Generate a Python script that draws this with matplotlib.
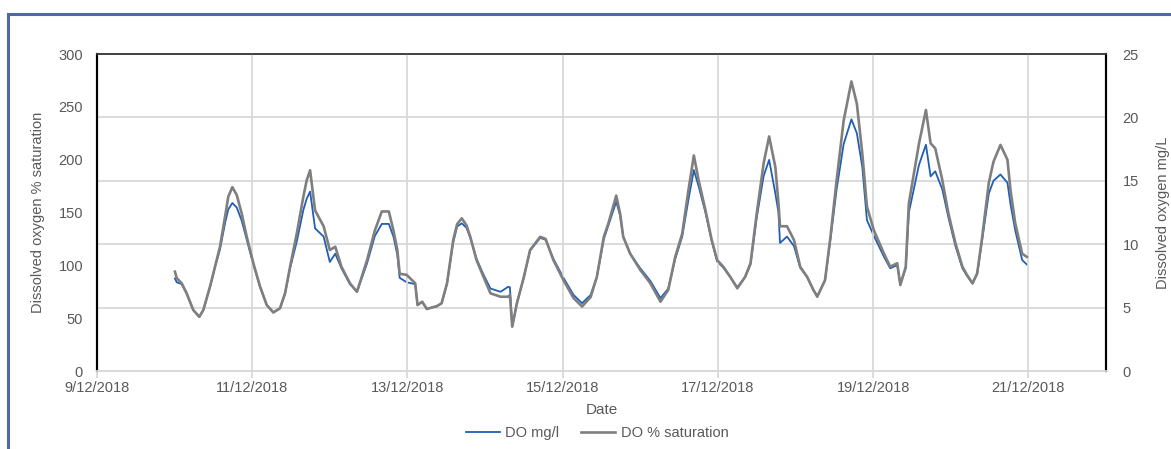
import matplotlib
matplotlib.use('Agg')
import matplotlib.pyplot as plt
from matplotlib.lines import Line2D
import pandas as pd

plt.rcParams['font.family'] = ['Liberation Sans', 'DejaVu Sans']

# time as day of December 2018 (fractional)
day = [10.005, 10.027, 10.092, 10.156, 10.241, 10.319, 10.370, 10.457, 10.521, 10.585,
       10.650, 10.692, 10.744, 10.801, 10.865, 10.930, 11.015, 11.101, 11.187, 11.272,
       11.358, 11.423, 11.488, 11.574, 11.659, 11.703, 11.746,
       11.81, 11.92, 12.00, 12.07, 12.15, 12.26, 12.35, 12.48, 12.58, 12.67, 12.76,
       12.82, 12.87, 12.90, 12.99, 13.06, 13.10, 13.13, 13.19, 13.25, 13.38,
       13.44, 13.51, 13.59, 13.64, 13.70, 13.76, 13.81, 13.89, 13.98, 14.07, 14.20, 14.30,
       14.32, 14.35, 14.41, 14.50, 14.58, 14.71, 14.78, 14.88, 15.01, 15.14,
       15.25, 15.36, 15.44, 15.53, 15.59, 15.69, 15.74, 15.78, 15.87, 16.00,
       16.13, 16.26, 16.36, 16.45, 16.54, 16.62, 16.69, 16.75, 16.84, 16.92,
       16.99, 17.07, 17.16, 17.25, 17.35, 17.42, 17.50, 17.59, 17.66, 17.74,
       17.78, 17.80, 17.89, 17.98, 18.06, 18.15, 18.23, 18.28, 18.38, 18.45,
       18.53, 18.62, 18.72, 18.79, 18.86, 18.92, 19.01, 19.14, 19.22, 19.31,
       19.35, 19.42, 19.46, 19.59, 19.68, 19.74, 19.80, 19.89, 19.97, 20.06,
       20.15, 20.21, 20.28, 20.34, 20.40, 20.49, 20.55, 20.64, 20.73, 20.77,
       20.83, 20.92, 20.98]
sat = [94, 88, 83, 73.5, 57.7, 51.4, 57.7, 80, 98.7, 117.6,
       146, 165, 174, 166.6, 149, 127, 102, 80, 62.5, 55.5,
       59.3, 73.5, 98.7, 130, 165, 180.7, 190,
       152, 137, 114.5, 117.6, 98.7, 83, 75, 105, 133, 151, 151,
       133, 114.5, 92, 91, 86, 83, 62.5, 65.6, 58.7, 61.5,
       64, 83, 124, 139, 144.5, 138, 127, 105, 89, 73.5, 70.3, 70.3,
       72, 42, 64, 89, 114.5, 127, 125, 105, 86, 69,
       61, 70, 89, 127, 140, 166, 149, 127, 111, 95.6,
       83, 65.6, 76.7, 108, 130, 171, 204, 181, 152, 124,
       105, 98.7, 89, 78.3, 89, 102, 149, 197, 222, 193,
       159, 137, 137, 124, 98.7, 89, 76.7, 70.3, 86, 127,
       181, 237, 274, 253, 206, 155.5, 133, 111, 98.7, 102,
       81.4, 98.7, 158.7, 215, 247, 215.5, 210.7, 181, 149, 121,
       98.7, 90.8, 83, 92.4, 124, 178, 198, 214, 200, 171,
       140, 111, 108]
mgl = [7.3, 7.0, 6.85, 6.1, 4.8, 4.25, 4.8, 6.65, 8.2, 9.6,
       11.65, 12.75, 13.25, 12.9, 11.85, 10.35, 8.4, 6.65, 5.2, 4.6,
       4.95, 6.1, 8.1, 10.2, 12.7, 13.6, 14.15,
       11.25, 10.6, 8.6, 9.25, 8.1, 6.85, 6.25, 8.5, 10.65, 11.6, 11.6,
       10.6, 9.15, 7.35, 7.0, 6.9, 6.85, 5.2, 5.45, 4.9, 5.1,
       5.35, 6.9, 10.15, 11.4, 11.65, 11.3, 10.5, 8.85, 7.6, 6.5, 6.25, 6.65,
       6.6, 3.5, 5.35, 7.4, 9.5, 10.5, 10.35, 8.85, 7.35, 6.0,
       5.35, 6.0, 7.4, 10.4, 11.5, 13.35, 12.25, 10.6, 9.25, 8.1,
       7.1, 5.75, 6.5, 8.85, 10.6, 13.5, 15.85, 14.6, 12.5, 10.25,
       8.65, 8.15, 7.4, 6.6, 7.4, 8.4, 12.1, 15.4, 16.65, 14.0,
       12.5, 10.1, 10.6, 9.85, 8.15, 7.4, 6.4, 5.9, 7.15, 10.4,
       14.35, 17.9, 19.85, 18.75, 16.1, 11.9, 10.65, 9.0, 8.1, 8.35,
       6.85, 8.1, 12.5, 16.25, 17.85, 15.35, 15.75, 14.35, 12.1, 9.85,
       8.1, 7.5, 6.9, 7.65, 10.15, 14.0, 15.0, 15.5, 14.85, 13.15,
       11.1, 8.75, 8.4]

x_ticks = ['2018-12-09', '2018-12-11', '2018-12-13', '2018-12-15',
           '2018-12-17', '2018-12-19', '2018-12-21']
x_labels = ['9/12/2018', '11/12/2018', '13/12/2018', '15/12/2018',
            '17/12/2018', '19/12/2018', '21/12/2018']

t = pd.Timestamp('2018-12-01') + pd.to_timedelta([d - 1 for d in day], unit='D')

grid_c = '#d9d9d9'
txt_c = '#595959'

fig = plt.figure(figsize=(11.71, 4.49), dpi=100)
ax = fig.add_axes([0.0828, 0.1737, 0.8617, 0.706])
ax2 = ax.twinx()
ax.set_zorder(ax2.get_zorder() + 1)
ax.patch.set_visible(False)

ax2.plot(t, mgl, color='#1f5fb4', lw=1.3, label='DO mg/l')
ax.plot(t, sat, color='#7f7f7f', lw=1.9, label='DO % saturation')

ax.set_xlim(pd.Timestamp('2018-12-09'), pd.Timestamp('2018-12-22'))
ax.set_ylim(0, 300)
ax2.set_ylim(0, 25)
ax.set_yticks(range(0, 301, 50))
ax2.set_yticks(range(0, 26, 5))
ax.set_xticks(pd.to_datetime(x_ticks))
ax.set_xticklabels(x_labels)

ax2.grid(axis='y', color=grid_c, lw=1.3)
ax.grid(axis='x', color=grid_c, lw=1.3)
ax2.set_axisbelow(True)

for a in (ax, ax2):
    a.spines['left'].set_color('black')
    a.spines['left'].set_linewidth(1.5)
    a.spines['right'].set_color('black')
    a.spines['right'].set_linewidth(1.5)
    a.spines['top'].set_color('#404040')
    a.spines['top'].set_linewidth(1.2)
    a.spines['bottom'].set_color(grid_c)
    a.spines['bottom'].set_linewidth(1.3)
    a.tick_params(labelsize=10.5, labelcolor=txt_c)

ax.tick_params(axis='y', length=0, pad=10)
ax2.tick_params(axis='y', length=0, pad=12)
ax.tick_params(axis='x', length=5, color=grid_c, width=1.3, pad=2)

ax.set_ylabel('Dissolved oxygen % saturation', fontsize=10.5, color=txt_c, labelpad=10)
ax2.set_ylabel('Dissolved oxygen mg/L', fontsize=10.5, color=txt_c, labelpad=12)
ax.set_xlabel('Date', fontsize=11, color=txt_c, labelpad=6)

h1, l1 = ax2.get_legend_handles_labels()
h2, l2 = ax.get_legend_handles_labels()
leg = fig.legend(h1 + h2, l1 + l2, loc='center', bbox_to_anchor=(0.51, 0.036),
                 ncol=2, frameon=False, fontsize=10.5, handlelength=2.3,
                 columnspacing=1.5, handletextpad=0.4)
for tx in leg.get_texts():
    tx.set_color(txt_c)

# blue frame around the chart
fig.add_artist(Line2D([8 / 1171, 8 / 1171], [0, 1 - 14 / 449], color='#4f6aa3', lw=2.2))
fig.add_artist(Line2D([8 / 1171, 1], [1 - 14 / 449, 1 - 14 / 449], color='#4f6aa3', lw=2.2))

fig.savefig('out.png', dpi=100)
